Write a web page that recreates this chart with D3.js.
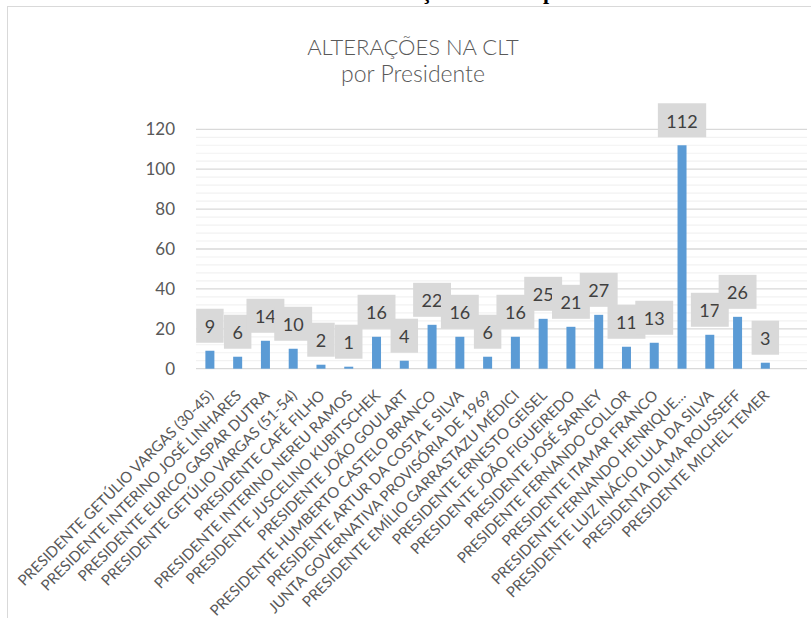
<!DOCTYPE html>
<html>
<head>
<meta charset="utf-8">
<script src="https://cdn.jsdelivr.net/npm/d3@7"></script>
<style>
  html, body { margin: 0; padding: 0; background: #fff; }
  svg { display: block; }
</style>
</head>
<body>
<svg id="chart" width="811" height="618"></svg>
<script>
const caption = "Gráfico 3 – Número de alterações na CLT por Presidente";
const titleLines = ["ALTERAÇÕES NA CLT", "por Presidente"];
const categories = [
  "PRESIDENTE GETÚLIO VARGAS (30-45)",
  "PRESIDENTE INTERINO JOSÉ LINHARES",
  "PRESIDENTE EURICO GASPAR DUTRA",
  "PRESIDENTE GETÚLIO VARGAS (51-54)",
  "PRESIDENTE CAFÉ FILHO",
  "PRESIDENTE INTERINO NEREU RAMOS",
  "PRESIDENTE JUSCELINO KUBITSCHEK",
  "PRESIDENTE JOÃO GOULART",
  "PRESIDENTE HUMBERTO CASTELO BRANCO",
  "PRESIDENTE ARTUR DA COSTA E SILVA",
  "JUNTA GOVERNATIVA PROVISÓRIA DE 1969",
  "PRESIDENTE EMÍLIO GARRASTAZU MÉDICI",
  "PRESIDENTE ERNESTO GEISEL",
  "PRESIDENTE JOÃO FIGUEIREDO",
  "PRESIDENTE JOSÉ SARNEY",
  "PRESIDENTE FERNANDO COLLOR",
  "PRESIDENTE ITAMAR FRANCO",
  "PRESIDENTE FERNANDO HENRIQUE…",
  "PRESIDENTE LUIZ INÁCIO LULA DA SILVA",
  "PRESIDENTA DILMA ROUSSEFF",
  "PRESIDENTE MICHEL TEMER",
  ""
];
const values = [9, 6, 14, 10, 2, 1, 16, 4, 22, 16, 6, 16, 25, 21, 27, 11, 13, 112, 17, 26, 3, null];
const yTicks = [0, 20, 40, 60, 80, 100, 120];
const yMinorTicks = d3.range(0, 121, 4);

const svg = d3.select("#chart");
const W = 811, H = 618;
const plot = { left: 196, right: 807, top: 129.3, bottom: 368.7 };
const font = "Lato, 'Open Sans', sans-serif";

// frame
svg.append("rect").attr("x", 7.5).attr("y", 6.5).attr("width", W + 10).attr("height", H + 10)
  .attr("fill", "#fff").attr("stroke", "#D9D9D9").attr("stroke-width", 1);

// cut-off caption above the frame (only its lower edge shows, as in the source)
svg.append("text").attr("x", 413).attr("y", -1)
  .attr("text-anchor", "middle")
  .attr("font-family", "'Liberation Serif', 'Times New Roman', serif")
  .attr("font-weight", "bold").attr("font-size", 22).attr("fill", "#000")
  .text(caption);

// title
svg.append("text").attr("x", 413).attr("y", 55)
  .attr("text-anchor", "middle").attr("font-family", font).attr("font-weight", 300)
  .attr("font-size", 22).attr("fill", "#595959").text(titleLines[0]);
svg.append("text").attr("x", 413).attr("y", 82)
  .attr("text-anchor", "middle").attr("font-family", font).attr("font-weight", 300)
  .attr("font-size", 23).attr("fill", "#595959").text(titleLines[1]);

const x = d3.scaleBand().domain(categories)
  .range([plot.left, plot.right]).paddingInner(0.676).paddingOuter(0.338);
const y = d3.scaleLinear().domain([0, 120]).range([plot.bottom, plot.top]);

// minor gridlines
svg.append("g").selectAll("line").data(yMinorTicks.filter(t => t % 20 !== 0)).join("line")
  .attr("x1", plot.left).attr("x2", plot.right)
  .attr("y1", d => y(d)).attr("y2", d => y(d))
  .attr("stroke", "#F2F2F2").attr("stroke-width", 1.2);
// major gridlines
svg.append("g").selectAll("line").data(yTicks).join("line")
  .attr("x1", plot.left).attr("x2", plot.right)
  .attr("y1", d => y(d)).attr("y2", d => y(d))
  .attr("stroke", "#D9D9D9").attr("stroke-width", 1.3);

// y axis labels
const yAxis = d3.axisLeft(y).tickValues(yTicks).tickSize(0).tickPadding(0);
const gy = svg.append("g").attr("transform", `translate(175,0)`).call(yAxis);
gy.select(".domain").remove();
gy.selectAll("text").attr("font-family", font).attr("font-size", 17).attr("fill", "#595959");

// bars
const data = categories.map((c, i) => ({ c, v: values[i] })).filter(d => d.v != null);
svg.append("g").selectAll("rect").data(data).join("rect")
  .attr("x", d => x(d.c)).attr("width", x.bandwidth())
  .attr("y", d => y(d.v)).attr("height", d => y(0) - y(d.v))
  .attr("fill", "#5B9BD5");

// data labels
const lg = svg.append("g");
data.forEach(d => {
  const cx = x(d.c) + x.bandwidth() / 2;
  const bottom = y(d.v) - 8;
  const g = lg.append("g");
  const rect = g.append("rect").attr("fill", "#D9D9D9");
  const t = g.append("text").attr("x", cx).attr("y", bottom - 9.5)
    .attr("text-anchor", "middle").attr("font-family", font)
    .attr("font-size", 18).attr("fill", "#404040").text(d.v);
  const w = t.node().getComputedTextLength() + 17;
  rect.attr("x", cx - w / 2).attr("y", bottom - 34).attr("width", w).attr("height", 34);
});

// x axis
const xAxis = d3.axisBottom(x).tickSize(0).tickPadding(0);
const gx = svg.append("g").attr("transform", `translate(0,${plot.bottom})`).call(xAxis);
gx.select(".domain").remove();
gx.selectAll("text")
  .attr("font-family", font).attr("font-size", 15).attr("fill", "#595959")
  .attr("text-anchor", "end")
  .attr("dy", "0.35em")
  .attr("transform", "translate(1,24) rotate(-45)");
</script>
</body>
</html>
